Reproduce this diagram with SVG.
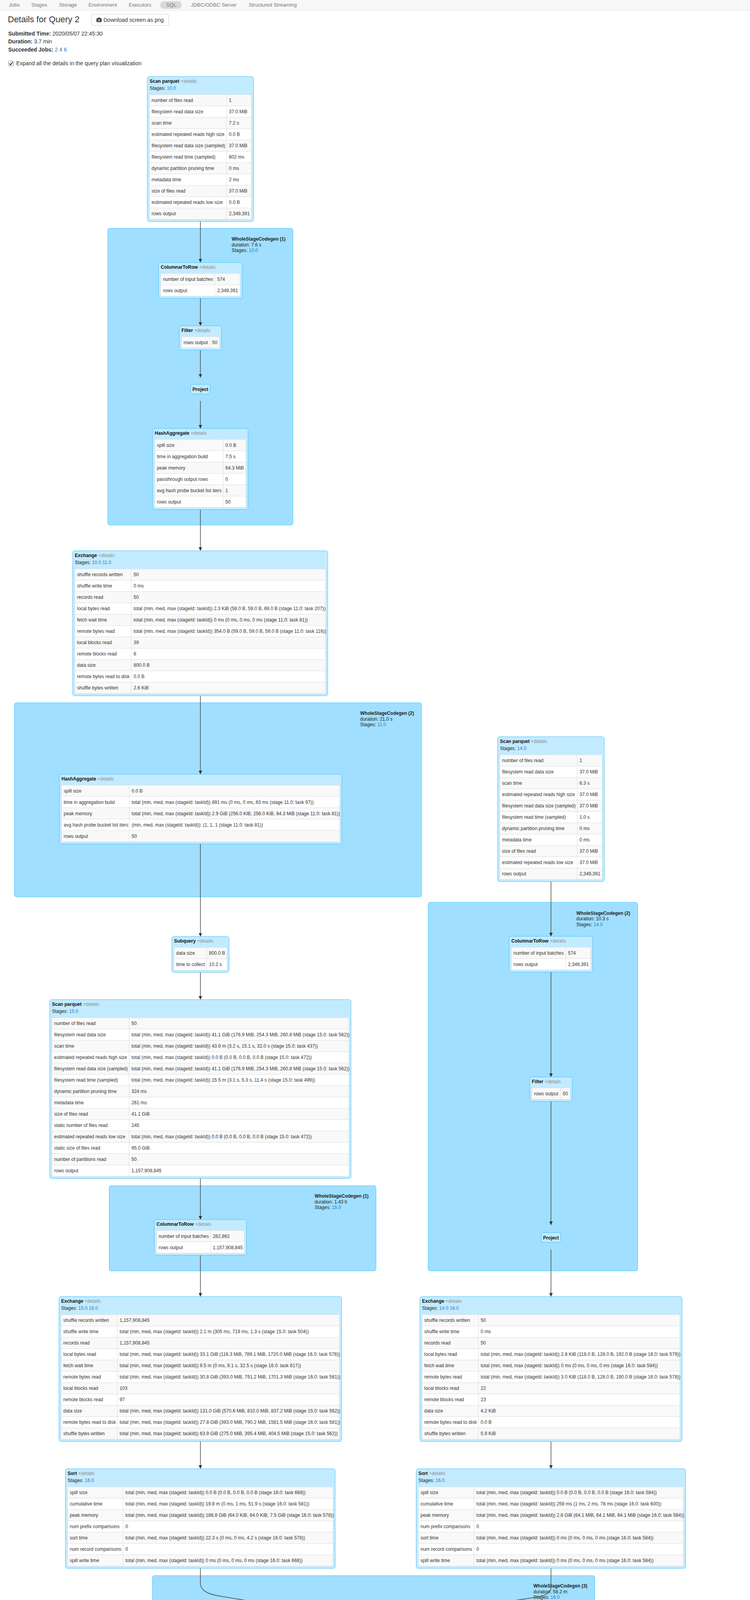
<svg xmlns="http://www.w3.org/2000/svg" width="1920" height="5778" viewBox="0 0 1920 5778">
<defs>
<style>
text{font-family:"Liberation Sans",Arial,Helvetica,sans-serif;}
.cl{fill:#A0DFFF;stroke:#3EC0FF;stroke-width:1}
.nd{fill:#C3EBFF;stroke:#3EC0FF;stroke-width:1}
.tb{fill:#fff}
.to{fill:none;stroke:#ddd;stroke-width:1}
.sp{fill:#f9f9f9}
.gl{fill:none;stroke:#ddd;stroke-width:1}
.tt{font-size:12px;font-weight:bold;fill:#111}
.dt{font-weight:normal;fill:#8c8c8c}
.tx{font-size:12px;fill:#222}
.c{font-size:12px;fill:#333}
.lk{fill:#2c7bc4}
.b{font-weight:bold}
.edge{fill:none;stroke:#444;stroke-width:1.5}
.pre{font-family:"Liberation Mono","DejaVu Sans Mono",monospace;font-size:11px;fill:#333;white-space:pre}
.nav{font-size:13px;fill:#777}
.hd{font-size:14px;fill:#333}
</style>
<marker id="ah" viewBox="0 0 10 10" refX="10" refY="5" markerUnits="userSpaceOnUse" markerWidth="9" markerHeight="9" orient="auto"><path d="M0,0L10,5L0,10z" fill="#333"/></marker>
</defs>
<rect width="1920" height="5778" fill="#fff"/>

<g id="navbar">
<rect x="0" y="0" width="1920" height="26.5" fill="#f8f8f8"/>
<line x1="0" y1="26.5" x2="1920" y2="26.5" stroke="#e3e3e3"/>
<rect x="410" y="3" width="55" height="19.5" rx="9" fill="#d9d9d9"/>
<text class="nav" x="23" y="17">Jobs</text>
<text class="nav" x="80.2" y="17">Stages</text>
<text class="nav" x="151.3" y="17">Storage</text>
<text class="nav" x="226.6" y="17">Environment</text>
<text class="nav" x="329.4" y="17">Executors</text>
<text class="nav" x="425.6" y="17">SQL</text>
<text class="nav" x="488.7" y="17">JDBC/ODBC Server</text>
<text class="nav" x="636.8" y="17">Structured Streaming</text>
</g>

<g id="header">
<text x="20" y="56.5" font-size="22" fill="#333">Details for Query 2</text>
<rect x="234.5" y="36.8" width="197.5" height="28.4" rx="4" fill="#fff" stroke="#ccc"/>
<rect x="247" y="47" width="13" height="9.5" rx="1.5" fill="#333"/>
<rect x="250.5" y="45" width="6" height="3" rx="1" fill="#333"/>
<circle cx="253.5" cy="51.7" r="2.9" fill="#fff"/>
<circle cx="253.5" cy="51.7" r="1.6" fill="#333"/>
<text class="hd" x="265" y="56">Download screen as png</text>
<text class="hd" x="21" y="91"><tspan class="b">Submitted Time:</tspan> 2020/05/07 22:45:30</text>
<text class="hd" x="21" y="111"><tspan class="b">Duration:</tspan> 3.7 min</text>
<text class="hd" x="21" y="131.5"><tspan class="b">Succeeded Jobs:</tspan> <tspan class="lk">2</tspan> <tspan class="lk">4</tspan> <tspan class="lk">6</tspan></text>
<rect x="21.5" y="156" width="13" height="13" rx="2" fill="#fff" stroke="#888"/>
<path d="M24,162.5L27.2,166.2L32.5,158.5" fill="none" stroke="#222" stroke-width="2"/>
<text class="hd" x="41.6" y="167">Expand all the details in the query plan visualization</text>
</g>

<g id="clusters">
<g id="c1"><rect class="cl" x="276" y="584.5" width="474" height="759.5" rx="5"/>
<text class="tx" x="593" y="616"><tspan class="b">WholeStageCodegen (1)</tspan></text>
<text class="tx" x="593" y="630.5">duration: 7.6 s</text>
<text class="tx" x="593" y="645">Stages: <tspan class="lk">10.0</tspan></text></g>
<g id="c2"><rect class="cl" x="37" y="1799" width="1042" height="497" rx="5"/>
<text class="tx" x="922" y="1830"><tspan class="b">WholeStageCodegen (2)</tspan></text>
<text class="tx" x="922" y="1844.5">duration: 21.0 s</text>
<text class="tx" x="922" y="1859">Stages: <tspan class="lk">11.0</tspan></text></g>
<g id="c3"><rect class="cl" x="1096" y="2310" width="536.5" height="943.5" rx="5"/>
<text class="tx" x="1475.5" y="2341.5"><tspan class="b">WholeStageCodegen (2)</tspan></text>
<text class="tx" x="1475.5" y="2356">duration: 10.3 s</text>
<text class="tx" x="1475.5" y="2370.5">Stages: <tspan class="lk">14.0</tspan></text></g>
<g id="c4"><rect class="cl" x="279.6" y="3035.3" width="683" height="218.3" rx="5"/>
<text class="tx" x="805.6" y="3066.3"><tspan class="b">WholeStageCodegen (1)</tspan></text>
<text class="tx" x="805.6" y="3080.8">duration: 1.43 h</text>
<text class="tx" x="805.6" y="3095.3">Stages: <tspan class="lk">15.0</tspan></text></g>
<g id="c5"><rect class="cl" x="390" y="4033.7" width="1132.5" height="189" rx="5"/>
<text class="tx" x="1365.5" y="4064.3"><tspan class="b">WholeStageCodegen (3)</tspan></text>
<text class="tx" x="1365.5" y="4078.5">duration: 58.2 m</text>
<text class="tx" x="1365.5" y="4092.5">Stages: <tspan class="lk">16.0</tspan></text></g>
</g>

<g id="connectors">
<path class="edge" marker-end="url(#ah)" d="M513,567V672"/>
<path class="edge" marker-end="url(#ah)" d="M513,763.6V834"/>
<path class="edge" marker-end="url(#ah)" d="M513,896.6V966.5"/>
<path class="edge" marker-end="url(#ah)" d="M513,1026.5V1097"/>
<path class="edge" marker-end="url(#ah)" d="M513,1304.6V1410"/>
<path class="edge" marker-end="url(#ah)" d="M513,1781V1982"/>
<path class="edge" marker-end="url(#ah)" d="M513,2160.6V2397.6"/>
<path class="edge" marker-end="url(#ah)" d="M513,2489.2V2559"/>
<path class="edge" marker-end="url(#ah)" d="M513,3017V3122"/>
<path class="edge" marker-end="url(#ah)" d="M513,3213.6V3319.2"/>
<path class="edge" marker-end="url(#ah)" d="M513,3690.2V3760"/>
<path class="edge" marker-end="url(#ah)" d="M513,4015V4052C513,4072 530,4080.5 566,4086.5L877,4138"/>
<path class="edge" marker-end="url(#ah)" d="M1410.5,2257V2397"/>
<path class="edge" marker-end="url(#ah)" d="M1410.5,2488.6V2757"/>
<path class="edge" marker-end="url(#ah)" d="M1410.5,2819.6V3136"/>
<path class="edge" marker-end="url(#ah)" d="M1410.5,3198.8V3319.2"/>
<path class="edge" marker-end="url(#ah)" d="M1410.5,3690.2V3760"/>
<path class="edge" marker-end="url(#ah)" d="M1410.5,4015V4062C1410.5,4080 1396,4085 1362,4090.5L1047,4138"/>
<path class="edge" marker-end="url(#ah)" d="M962,4182.6V4287.7"/>
</g>

<g id="n1">
<rect class="nd" x="377" y="196" width="272" height="371" rx="5"/>
<text class="tt" x="383" y="211.8">Scan parquet<tspan class="dt"> +details</tspan></text>
<text class="tx" x="383" y="229.8">Stages: <tspan class="lk">10.0</tspan></text>
<g transform="translate(382.5,242.4)">
<rect class="tb" width="261" height="319"/>
<path class="sp" d="M0,0h261v29H0zM0,58h261v29H0zM0,116h261v29H0zM0,174h261v29H0zM0,232h261v29H0zM0,290h261v29H0z"/>
<path class="gl" d="M0,29H261M0,58H261M0,87H261M0,116H261M0,145H261M0,174H261M0,203H261M0,232H261M0,261H261M0,290H261M197.5,0V319"/>
<rect class="to" width="261" height="319"/>
<text class="c" x="5.5" y="18.7">number of files read</text><text class="c" x="203.5" y="18.7">1</text>
<text class="c" x="5.5" y="47.7">filesystem read data size</text><text class="c" x="203.5" y="47.7">37.0 MiB</text>
<text class="c" x="5.5" y="76.7">scan time</text><text class="c" x="203.5" y="76.7">7.2 s</text>
<text class="c" x="5.5" y="105.7">estimated repeated reads high size</text><text class="c" x="203.5" y="105.7">0.0 B</text>
<text class="c" x="5.5" y="134.7">filesystem read data size (sampled)</text><text class="c" x="203.5" y="134.7">37.0 MiB</text>
<text class="c" x="5.5" y="163.7">filesystem read time (sampled)</text><text class="c" x="203.5" y="163.7">602 ms</text>
<text class="c" x="5.5" y="192.7">dynamic partition pruning time</text><text class="c" x="203.5" y="192.7">0 ms</text>
<text class="c" x="5.5" y="221.7">metadata time</text><text class="c" x="203.5" y="221.7">2 ms</text>
<text class="c" x="5.5" y="250.7">size of files read</text><text class="c" x="203.5" y="250.7">37.0 MiB</text>
<text class="c" x="5.5" y="279.7">estimated repeated reads low size</text><text class="c" x="203.5" y="279.7">0.0 B</text>
<text class="c" x="5.5" y="308.7">rows output</text><text class="c" x="203.5" y="308.7">2,349,391</text>
</g></g>

<g id="n3">
<rect class="nd" x="406" y="672" width="214" height="91.6" rx="5"/>
<text class="tt" x="411.5" y="687.8">ColumnarToRow<tspan class="dt"> +details</tspan></text>
<g transform="translate(411.5,700)">
<rect class="tb" width="203" height="58"/>
<path class="sp" d="M0,0h203v29H0z"/>
<path class="gl" d="M0,29H203M138.5,0V58"/>
<rect class="to" width="203" height="58"/>
<text class="c" x="5.5" y="18.7">number of input batches</text><text class="c" x="144.5" y="18.7">574</text>
<text class="c" x="5.5" y="47.7">rows output</text><text class="c" x="144.5" y="47.7">2,349,391</text>
</g></g>

<g id="n4">
<rect class="nd" x="459" y="834" width="108" height="62.6" rx="5"/>
<text class="tt" x="464.5" y="849.8">Filter<tspan class="dt"> +details</tspan></text>
<g transform="translate(464.5,862)">
<rect class="tb" width="97" height="29"/>
<path class="sp" d="M0,0h97v29H0z"/>
<path class="gl" d="M72.5,0V29"/>
<rect class="to" width="97" height="29"/>
<text class="c" x="5.5" y="18.7">rows output</text><text class="c" x="78.5" y="18.7">50</text>
</g></g>

<g id="n5">
<rect class="nd" x="488" y="984" width="50" height="24.6" rx="5"/>
<text class="tt" x="513" y="1001" text-anchor="middle">Project</text>
</g>

<g id="n6">
<rect class="nd" x="390.5" y="1097" width="244.5" height="207.6" rx="5"/>
<text class="tt" x="396" y="1112.8">HashAggregate<tspan class="dt"> +details</tspan></text>
<g transform="translate(396,1125)">
<rect class="tb" width="233.5" height="174"/>
<path class="sp" d="M0,0h233.5v29H0zM0,58h233.5v29H0zM0,116h233.5v29H0z"/>
<path class="gl" d="M0,29H233.5M0,58H233.5M0,87H233.5M0,116H233.5M0,145H233.5M175,0V174"/>
<rect class="to" width="233.5" height="174"/>
<text class="c" x="5.5" y="18.7">spill size</text><text class="c" x="181" y="18.7">0.0 B</text>
<text class="c" x="5.5" y="47.7">time in aggregation build</text><text class="c" x="181" y="47.7">7.5 s</text>
<text class="c" x="5.5" y="76.7">peak memory</text><text class="c" x="181" y="76.7">64.3 MiB</text>
<text class="c" x="5.5" y="105.7">passthrough output rows</text><text class="c" x="181" y="105.7">0</text>
<text class="c" x="5.5" y="134.7">avg hash probe bucket list iters</text><text class="c" x="181" y="134.7">1</text>
<text class="c" x="5.5" y="163.7">rows output</text><text class="c" x="181" y="163.7">50</text>
</g></g>

<g id="n7">
<rect class="nd" x="186" y="1410" width="653" height="371" rx="5"/>
<text class="tt" x="191.5" y="1425.8">Exchange<tspan class="dt"> +details</tspan></text>
<text class="tx" x="191.5" y="1443.8">Stages: <tspan class="lk">10.0</tspan> <tspan class="lk">11.0</tspan></text>
<g transform="translate(191.5,1456.4)">
<rect class="tb" width="642" height="319"/>
<path class="sp" d="M0,0h642v29H0zM0,58h642v29H0zM0,116h642v29H0zM0,174h642v29H0zM0,232h642v29H0zM0,290h642v29H0z"/>
<path class="gl" d="M0,29H642M0,58H642M0,87H642M0,116H642M0,145H642M0,174H642M0,203H642M0,232H642M0,261H642M0,290H642M144.5,0V319"/>
<rect class="to" width="642" height="319"/>
<text class="c" x="5.5" y="18.7">shuffle records written</text><text class="c" x="150.5" y="18.7">50</text>
<text class="c" x="5.5" y="47.7">shuffle write time</text><text class="c" x="150.5" y="47.7">0 ms</text>
<text class="c" x="5.5" y="76.7">records read</text><text class="c" x="150.5" y="76.7">50</text>
<text class="c" x="5.5" y="105.7">local bytes read</text><text class="c" x="150.5" y="105.7">total (min, med, max (stageId: taskId)) 2.3 KiB (58.0 B, 59.0 B, 69.0 B (stage 11.0: task 207))</text>
<text class="c" x="5.5" y="134.7">fetch wait time</text><text class="c" x="150.5" y="134.7">total (min, med, max (stageId: taskId)) 0 ms (0 ms, 0 ms, 0 ms (stage 11.0: task 81))</text>
<text class="c" x="5.5" y="163.7">remote bytes read</text><text class="c" x="150.5" y="163.7">total (min, med, max (stageId: taskId)) 354.0 B (59.0 B, 59.0 B, 59.0 B (stage 11.0: task 116))</text>
<text class="c" x="5.5" y="192.7">local blocks read</text><text class="c" x="150.5" y="192.7">39</text>
<text class="c" x="5.5" y="221.7">remote blocks read</text><text class="c" x="150.5" y="221.7">6</text>
<text class="c" x="5.5" y="250.7">data size</text><text class="c" x="150.5" y="250.7">800.0 B</text>
<text class="c" x="5.5" y="279.7">remote bytes read to disk</text><text class="c" x="150.5" y="279.7">0.0 B</text>
<text class="c" x="5.5" y="308.7">shuffle bytes written</text><text class="c" x="150.5" y="308.7">2.6 KiB</text>
</g></g>

<g id="n9">
<rect class="nd" x="152" y="1982" width="723" height="178.6" rx="5"/>
<text class="tt" x="157.5" y="1997.8">HashAggregate<tspan class="dt"> +details</tspan></text>
<g transform="translate(157.5,2010)">
<rect class="tb" width="712" height="145"/>
<path class="sp" d="M0,0h712v29H0zM0,58h712v29H0zM0,116h712v29H0z"/>
<path class="gl" d="M0,29H712M0,58H712M0,87H712M0,116H712M173.5,0V145"/>
<rect class="to" width="712" height="145"/>
<text class="c" x="5.5" y="18.7">spill size</text><text class="c" x="179.5" y="18.7">0.0 B</text>
<text class="c" x="5.5" y="47.7">time in aggregation build</text><text class="c" x="179.5" y="47.7">total (min, med, max (stageId: taskId)) 891 ms (0 ms, 0 ms, 63 ms (stage 11.0: task 97))</text>
<text class="c" x="5.5" y="76.7">peak memory</text><text class="c" x="179.5" y="76.7">total (min, med, max (stageId: taskId)) 2.9 GiB (256.0 KiB, 256.0 KiB, 64.3 MiB (stage 11.0: task 81))</text>
<text class="c" x="5.5" y="105.7">avg hash probe bucket list iters</text><text class="c" x="179.5" y="105.7">(min, med, max (stageId: taskId)): (1, 1, 1 (stage 11.0: task 81))</text>
<text class="c" x="5.5" y="134.7">rows output</text><text class="c" x="179.5" y="134.7">50</text>
</g></g>

<g id="n10">
<rect class="nd" x="1274" y="1886" width="273" height="371" rx="5"/>
<text class="tt" x="1280" y="1901.8">Scan parquet<tspan class="dt"> +details</tspan></text>
<text class="tx" x="1280" y="1919.8">Stages: <tspan class="lk">14.0</tspan></text>
<g transform="translate(1279.5,1932.4)">
<rect class="tb" width="262" height="319"/>
<path class="sp" d="M0,0h262v29H0zM0,58h262v29H0zM0,116h262v29H0zM0,174h262v29H0zM0,232h262v29H0zM0,290h262v29H0z"/>
<path class="gl" d="M0,29H262M0,58H262M0,87H262M0,116H262M0,145H262M0,174H262M0,203H262M0,232H262M0,261H262M0,290H262M198,0V319"/>
<rect class="to" width="262" height="319"/>
<text class="c" x="5.5" y="18.7">number of files read</text><text class="c" x="204" y="18.7">1</text>
<text class="c" x="5.5" y="47.7">filesystem read data size</text><text class="c" x="204" y="47.7">37.0 MiB</text>
<text class="c" x="5.5" y="76.7">scan time</text><text class="c" x="204" y="76.7">6.3 s</text>
<text class="c" x="5.5" y="105.7">estimated repeated reads high size</text><text class="c" x="204" y="105.7">37.0 MiB</text>
<text class="c" x="5.5" y="134.7">filesystem read data size (sampled)</text><text class="c" x="204" y="134.7">37.0 MiB</text>
<text class="c" x="5.5" y="163.7">filesystem read time (sampled)</text><text class="c" x="204" y="163.7">1.0 s</text>
<text class="c" x="5.5" y="192.7">dynamic partition pruning time</text><text class="c" x="204" y="192.7">0 ms</text>
<text class="c" x="5.5" y="221.7">metadata time</text><text class="c" x="204" y="221.7">0 ms</text>
<text class="c" x="5.5" y="250.7">size of files read</text><text class="c" x="204" y="250.7">37.0 MiB</text>
<text class="c" x="5.5" y="279.7">estimated repeated reads low size</text><text class="c" x="204" y="279.7">37.0 MiB</text>
<text class="c" x="5.5" y="308.7">rows output</text><text class="c" x="204" y="308.7">2,349,391</text>
</g></g>

<g id="n12">
<rect class="nd" x="1303.5" y="2397" width="214" height="91.6" rx="5"/>
<text class="tt" x="1309" y="2412.8">ColumnarToRow<tspan class="dt"> +details</tspan></text>
<g transform="translate(1309,2425)">
<rect class="tb" width="203" height="58"/>
<path class="sp" d="M0,0h203v29H0z"/>
<path class="gl" d="M0,29H203M139,0V58"/>
<rect class="to" width="203" height="58"/>
<text class="c" x="5.5" y="18.7">number of input batches</text><text class="c" x="145" y="18.7">574</text>
<text class="c" x="5.5" y="47.7">rows output</text><text class="c" x="145" y="47.7">2,349,391</text>
</g></g>

<g id="n13">
<rect class="nd" x="1356" y="2757" width="109" height="62.6" rx="5"/>
<text class="tt" x="1361.5" y="2772.8">Filter<tspan class="dt"> +details</tspan></text>
<g transform="translate(1361.5,2785)">
<rect class="tb" width="98" height="29"/>
<path class="sp" d="M0,0h98v29H0z"/>
<path class="gl" d="M73,0V29"/>
<rect class="to" width="98" height="29"/>
<text class="c" x="5.5" y="18.7">rows output</text><text class="c" x="79" y="18.7">50</text>
</g></g>

<g id="n14">
<rect class="nd" x="1385.5" y="3155.5" width="50" height="24.6" rx="5"/>
<text class="tt" x="1410.5" y="3172.5" text-anchor="middle">Project</text>
</g>

<g id="n15">
<rect class="nd" x="440" y="2397.6" width="146.4" height="91.6" rx="5"/>
<text class="tt" x="445.5" y="2413.4">Subquery<tspan class="dt"> +details</tspan></text>
<g transform="translate(445.5,2425.6)">
<rect class="tb" width="135.5" height="58"/>
<path class="sp" d="M0,0h135.5v29H0z"/>
<path class="gl" d="M0,29H135.5M83.5,0V58"/>
<rect class="to" width="135.5" height="58"/>
<text class="c" x="5.5" y="18.7">data size</text><text class="c" x="89.5" y="18.7">800.0 B</text>
<text class="c" x="5.5" y="47.7">time to collect</text><text class="c" x="89.5" y="47.7">10.2 s</text>
</g></g>

<g id="n16">
<rect class="nd" x="127.4" y="2559" width="771.2" height="458" rx="5"/>
<text class="tt" x="133" y="2574.8">Scan parquet<tspan class="dt"> +details</tspan></text>
<text class="tx" x="133" y="2592.8">Stages: <tspan class="lk">15.0</tspan></text>
<g transform="translate(133,2605.4)">
<rect class="tb" width="760" height="406"/>
<path class="sp" d="M0,0h760v29H0zM0,58h760v29H0zM0,116h760v29H0zM0,174h760v29H0zM0,232h760v29H0zM0,290h760v29H0zM0,348h760v29H0z"/>
<path class="gl" d="M0,29H760M0,58H760M0,87H760M0,116H760M0,145H760M0,174H760M0,203H760M0,232H760M0,261H760M0,290H760M0,319H760M0,348H760M0,377H760M197.5,0V406"/>
<rect class="to" width="760" height="406"/>
<text class="c" x="5.5" y="18.7">number of files read</text><text class="c" x="203.5" y="18.7">50</text>
<text class="c" x="5.5" y="47.7">filesystem read data size</text><text class="c" x="203.5" y="47.7">total (min, med, max (stageId: taskId)) 41.1 GiB (176.9 MiB, 254.3 MiB, 260.8 MiB (stage 15.0: task 562))</text>
<text class="c" x="5.5" y="76.7">scan time</text><text class="c" x="203.5" y="76.7">total (min, med, max (stageId: taskId)) 43.9 m (3.2 s, 15.1 s, 32.0 s (stage 15.0: task 437))</text>
<text class="c" x="5.5" y="105.7">estimated repeated reads high size</text><text class="c" x="203.5" y="105.7">total (min, med, max (stageId: taskId)) 0.0 B (0.0 B, 0.0 B, 0.0 B (stage 15.0: task 472))</text>
<text class="c" x="5.5" y="134.7">filesystem read data size (sampled)</text><text class="c" x="203.5" y="134.7">total (min, med, max (stageId: taskId)) 41.1 GiB (176.9 MiB, 254.3 MiB, 260.8 MiB (stage 15.0: task 562))</text>
<text class="c" x="5.5" y="163.7">filesystem read time (sampled)</text><text class="c" x="203.5" y="163.7">total (min, med, max (stageId: taskId)) 15.5 m (3.1 s, 5.3 s, 11.4 s (stage 15.0: task 499))</text>
<text class="c" x="5.5" y="192.7">dynamic partition pruning time</text><text class="c" x="203.5" y="192.7">324 ms</text>
<text class="c" x="5.5" y="221.7">metadata time</text><text class="c" x="203.5" y="221.7">261 ms</text>
<text class="c" x="5.5" y="250.7">size of files read</text><text class="c" x="203.5" y="250.7">41.1 GiB</text>
<text class="c" x="5.5" y="279.7">static number of files read</text><text class="c" x="203.5" y="279.7">245</text>
<text class="c" x="5.5" y="308.7">estimated repeated reads low size</text><text class="c" x="203.5" y="308.7">total (min, med, max (stageId: taskId)) 0.0 B (0.0 B, 0.0 B, 0.0 B (stage 15.0: task 472))</text>
<text class="c" x="5.5" y="337.7">static size of files read</text><text class="c" x="203.5" y="337.7">95.0 GiB</text>
<text class="c" x="5.5" y="366.7">number of partitions read</text><text class="c" x="203.5" y="366.7">50</text>
<text class="c" x="5.5" y="395.7">rows output</text><text class="c" x="203.5" y="395.7">1,157,908,845</text>
</g></g>

<g id="n18">
<rect class="nd" x="395" y="3122" width="236" height="91.6" rx="5"/>
<text class="tt" x="400.5" y="3137.8">ColumnarToRow<tspan class="dt"> +details</tspan></text>
<g transform="translate(400.5,3150)">
<rect class="tb" width="225" height="58"/>
<path class="sp" d="M0,0h225v29H0z"/>
<path class="gl" d="M0,29H225M138.2,0V58"/>
<rect class="to" width="225" height="58"/>
<text class="c" x="5.5" y="18.7">number of input batches</text><text class="c" x="144.2" y="18.7">282,862</text>
<text class="c" x="5.5" y="47.7">rows output</text><text class="c" x="144.2" y="47.7">1,157,908,845</text>
</g></g>

<g id="n19">
<rect class="nd" x="151" y="3319.2" width="723.5" height="371" rx="5"/>
<text class="tt" x="156.5" y="3335">Exchange<tspan class="dt"> +details</tspan></text>
<text class="tx" x="156.5" y="3353">Stages: <tspan class="lk">15.0</tspan> <tspan class="lk">16.0</tspan></text>
<g transform="translate(156.5,3365.6)">
<rect class="tb" width="712.5" height="319"/>
<path class="sp" d="M0,0h712.5v29H0zM0,58h712.5v29H0zM0,116h712.5v29H0zM0,174h712.5v29H0zM0,232h712.5v29H0zM0,290h712.5v29H0z"/>
<path class="gl" d="M0,29H712.5M0,58H712.5M0,87H712.5M0,116H712.5M0,145H712.5M0,174H712.5M0,203H712.5M0,232H712.5M0,261H712.5M0,290H712.5M143.7,0V319"/>
<rect class="to" width="712.5" height="319"/>
<text class="c" x="5.5" y="18.7">shuffle records written</text><text class="c" x="149.7" y="18.7">1,157,908,845</text>
<text class="c" x="5.5" y="47.7">shuffle write time</text><text class="c" x="149.7" y="47.7">total (min, med, max (stageId: taskId)) 2.1 m (305 ms, 719 ms, 1.3 s (stage 15.0: task 504))</text>
<text class="c" x="5.5" y="76.7">records read</text><text class="c" x="149.7" y="76.7">1,157,908,845</text>
<text class="c" x="5.5" y="105.7">local bytes read</text><text class="c" x="149.7" y="105.7">total (min, med, max (stageId: taskId)) 33.1 GiB (116.3 MiB, 789.1 MiB, 1720.0 MiB (stage 16.0: task 578))</text>
<text class="c" x="5.5" y="134.7">fetch wait time</text><text class="c" x="149.7" y="134.7">total (min, med, max (stageId: taskId)) 9.5 m (0 ms, 9.1 s, 32.5 s (stage 16.0: task 617))</text>
<text class="c" x="5.5" y="163.7">remote bytes read</text><text class="c" x="149.7" y="163.7">total (min, med, max (stageId: taskId)) 30.8 GiB (393.0 MiB, 791.2 MiB, 1701.3 MiB (stage 16.0: task 581))</text>
<text class="c" x="5.5" y="192.7">local blocks read</text><text class="c" x="149.7" y="192.7">103</text>
<text class="c" x="5.5" y="221.7">remote blocks read</text><text class="c" x="149.7" y="221.7">97</text>
<text class="c" x="5.5" y="250.7">data size</text><text class="c" x="149.7" y="250.7">total (min, med, max (stageId: taskId)) 131.0 GiB (570.6 MiB, 810.0 MiB, 837.2 MiB (stage 15.0: task 562))</text>
<text class="c" x="5.5" y="279.7">remote bytes read to disk</text><text class="c" x="149.7" y="279.7">total (min, med, max (stageId: taskId)) 27.8 GiB (393.0 MiB, 790.2 MiB, 1581.5 MiB (stage 16.0: task 581))</text>
<text class="c" x="5.5" y="308.7">shuffle bytes written</text><text class="c" x="149.7" y="308.7">total (min, med, max (stageId: taskId)) 63.9 GiB (275.0 MiB, 395.4 MiB, 404.5 MiB (stage 15.0: task 562))</text>
</g></g>

<g id="n20">
<rect class="nd" x="1075" y="3319.2" width="671" height="371" rx="5"/>
<text class="tt" x="1080.5" y="3335">Exchange<tspan class="dt"> +details</tspan></text>
<text class="tx" x="1080.5" y="3353">Stages: <tspan class="lk">14.0</tspan> <tspan class="lk">16.0</tspan></text>
<g transform="translate(1080.5,3365.6)">
<rect class="tb" width="660" height="319"/>
<path class="sp" d="M0,0h660v29H0zM0,58h660v29H0zM0,116h660v29H0zM0,174h660v29H0zM0,232h660v29H0zM0,290h660v29H0z"/>
<path class="gl" d="M0,29H660M0,58H660M0,87H660M0,116H660M0,145H660M0,174H660M0,203H660M0,232H660M0,261H660M0,290H660M144,0V319"/>
<rect class="to" width="660" height="319"/>
<text class="c" x="5.5" y="18.7">shuffle records written</text><text class="c" x="150" y="18.7">50</text>
<text class="c" x="5.5" y="47.7">shuffle write time</text><text class="c" x="150" y="47.7">0 ms</text>
<text class="c" x="5.5" y="76.7">records read</text><text class="c" x="150" y="76.7">50</text>
<text class="c" x="5.5" y="105.7">local bytes read</text><text class="c" x="150" y="105.7">total (min, med, max (stageId: taskId)) 2.8 KiB (118.0 B, 128.0 B, 192.0 B (stage 16.0: task 579))</text>
<text class="c" x="5.5" y="134.7">fetch wait time</text><text class="c" x="150" y="134.7">total (min, med, max (stageId: taskId)) 0 ms (0 ms, 0 ms, 0 ms (stage 16.0: task 584))</text>
<text class="c" x="5.5" y="163.7">remote bytes read</text><text class="c" x="150" y="163.7">total (min, med, max (stageId: taskId)) 3.0 KiB (118.0 B, 128.0 B, 190.0 B (stage 16.0: task 578))</text>
<text class="c" x="5.5" y="192.7">local blocks read</text><text class="c" x="150" y="192.7">22</text>
<text class="c" x="5.5" y="221.7">remote blocks read</text><text class="c" x="150" y="221.7">23</text>
<text class="c" x="5.5" y="250.7">data size</text><text class="c" x="150" y="250.7">4.2 KiB</text>
<text class="c" x="5.5" y="279.7">remote bytes read to disk</text><text class="c" x="150" y="279.7">0.0 B</text>
<text class="c" x="5.5" y="308.7">shuffle bytes written</text><text class="c" x="150" y="308.7">5.9 KiB</text>
</g></g>

<g id="n21">
<rect class="nd" x="167.5" y="3760" width="690.5" height="255" rx="5"/>
<text class="tt" x="173" y="3775.8">Sort<tspan class="dt"> +details</tspan></text>
<text class="tx" x="173" y="3793.8">Stages: <tspan class="lk">16.0</tspan></text>
<g transform="translate(173,3806.4)">
<rect class="tb" width="679.5" height="203"/>
<path class="sp" d="M0,0h679.5v29H0zM0,58h679.5v29H0zM0,116h679.5v29H0zM0,174h679.5v29H0z"/>
<path class="gl" d="M0,29H679.5M0,58H679.5M0,87H679.5M0,116H679.5M0,145H679.5M0,174H679.5M142,0V203"/>
<rect class="to" width="679.5" height="203"/>
<text class="c" x="5.5" y="18.7">spill size</text><text class="c" x="148" y="18.7">total (min, med, max (stageId: taskId)) 0.0 B (0.0 B, 0.0 B, 0.0 B (stage 16.0: task 668))</text>
<text class="c" x="5.5" y="47.7">cumulative time</text><text class="c" x="148" y="47.7">total (min, med, max (stageId: taskId)) 19.8 m (0 ms, 1 ms, 51.9 s (stage 16.0: task 581))</text>
<text class="c" x="5.5" y="76.7">peak memory</text><text class="c" x="148" y="76.7">total (min, med, max (stageId: taskId)) 186.8 GiB (64.0 KiB, 64.0 KiB, 7.5 GiB (stage 16.0: task 578))</text>
<text class="c" x="5.5" y="105.7">num prefix comparisons</text><text class="c" x="148" y="105.7">0</text>
<text class="c" x="5.5" y="134.7">sort time</text><text class="c" x="148" y="134.7">total (min, med, max (stageId: taskId)) 22.3 s (0 ms, 0 ms, 4.2 s (stage 16.0: task 578))</text>
<text class="c" x="5.5" y="163.7">num record comparisons</text><text class="c" x="148" y="163.7">0</text>
<text class="c" x="5.5" y="192.7">spill write time</text><text class="c" x="148" y="192.7">total (min, med, max (stageId: taskId)) 0 ms (0 ms, 0 ms, 0 ms (stage 16.0: task 668))</text>
</g></g>

<g id="n22">
<rect class="nd" x="1065.5" y="3760" width="689.5" height="255" rx="5"/>
<text class="tt" x="1071" y="3775.8">Sort<tspan class="dt"> +details</tspan></text>
<text class="tx" x="1071" y="3793.8">Stages: <tspan class="lk">16.0</tspan></text>
<g transform="translate(1071,3806.4)">
<rect class="tb" width="678.5" height="203"/>
<path class="sp" d="M0,0h678.5v29H0zM0,58h678.5v29H0zM0,116h678.5v29H0zM0,174h678.5v29H0z"/>
<path class="gl" d="M0,29H678.5M0,58H678.5M0,87H678.5M0,116H678.5M0,145H678.5M0,174H678.5M142.6,0V203"/>
<rect class="to" width="678.5" height="203"/>
<text class="c" x="5.5" y="18.7">spill size</text><text class="c" x="148.6" y="18.7">total (min, med, max (stageId: taskId)) 0.0 B (0.0 B, 0.0 B, 0.0 B (stage 16.0: task 584))</text>
<text class="c" x="5.5" y="47.7">cumulative time</text><text class="c" x="148.6" y="47.7">total (min, med, max (stageId: taskId)) 259 ms (1 ms, 2 ms, 78 ms (stage 16.0: task 600))</text>
<text class="c" x="5.5" y="76.7">peak memory</text><text class="c" x="148.6" y="76.7">total (min, med, max (stageId: taskId)) 2.8 GiB (64.1 MiB, 64.1 MiB, 64.1 MiB (stage 16.0: task 584))</text>
<text class="c" x="5.5" y="105.7">num prefix comparisons</text><text class="c" x="148.6" y="105.7">0</text>
<text class="c" x="5.5" y="134.7">sort time</text><text class="c" x="148.6" y="134.7">total (min, med, max (stageId: taskId)) 0 ms (0 ms, 0 ms, 0 ms (stage 16.0: task 584))</text>
<text class="c" x="5.5" y="163.7">num record comparisons</text><text class="c" x="148.6" y="163.7">0</text>
<text class="c" x="5.5" y="192.7">spill write time</text><text class="c" x="148.6" y="192.7">total (min, med, max (stageId: taskId)) 0 ms (0 ms, 0 ms, 0 ms (stage 16.0: task 584))</text>
</g></g>

<g id="n24">
<rect class="nd" x="877" y="4120" width="170" height="62.6" rx="5"/>
<text class="tt" x="882.5" y="4135.8">SortMergeJoin<tspan class="dt"> +details</tspan></text>
<g transform="translate(882.5,4148)">
<rect class="tb" width="159" height="29"/>
<path class="sp" d="M0,0h159v29H0z"/>
<path class="gl" d="M72.2,0V29"/>
<rect class="to" width="159" height="29"/>
<text class="c" x="5.5" y="18.7">rows output</text><text class="c" x="78.2" y="18.7">1,157,908,845</text>
</g></g>

<g id="n25">
<rect class="nd" x="868" y="4287.7" width="188" height="24.6" rx="5"/>
<text class="tx" x="872.5" y="4303.5"><tspan class="b">DeserializeToObject</tspan>Stages: <tspan class="lk">16.0</tspan></text>
</g>

<g id="details">
<polygon points="21,4339.5 28.5,4339.5 24.75,4345" fill="#222"/>
<text x="30.6" y="4347.4" font-size="14" class="lk">Details</text>
<rect x="20.2" y="4353.3" width="1879.8" height="1398.7" rx="4" fill="#f5f5f5" stroke="#ccc"/>
<text class="pre" x="28" y="4371.9">== Parsed Logical Plan ==</text>
<text class="pre" x="28" y="4389.9">'DeserializeToObject unresolveddeserializer(createexternalrow(staticinvoke(class org.apache.spark.sql.catalyst.util.DateTimeUtils$, ObjectType(class java.sql.Timestamp), toJavaTimestamp, getcolumnbyordinal(0, StructField(transacted_at,TimestampType,true),</text>
<text class="pre" x="28" y="4407.9">StructField(trx_id,StringType,true), StructField(retailer_id,IntegerType,true), StructField(description,StringType,true), StructField(amount,DecimalType(38,2),true), StructField(p_city_id,IntegerType,true), StructField(city_id,IntegerType,true), StructField(city,StringType,true),</text>
<text class="pre" x="28" y="4425.9">StructField(state,StringType,true), StructField(state_abv,StringType,true), StructField(country,StringType,true)), true, false), getcolumnbyordinal(1, StructField(transacted_at,TimestampType,true), StructField(trx_id,StringType,true), StructField(retailer_id,IntegerType,true),</text>
<text class="pre" x="28" y="4443.9">StructField(description,StringType,true), StructField(amount,DecimalType(38,2),true), StructField(p_city_id,IntegerType,true), StructField(city_id,IntegerType,true), StructField(city,StringType,true), StructField(state,StringType,true), StructField(state_abv,StringType,true),</text>
<text class="pre" x="28" y="4461.9">StructField(country,StringType,true)).toString, getcolumnbyordinal(2, StructField(transacted_at,TimestampType,true), StructField(trx_id,StringType,true), StructField(retailer_id,IntegerType,true), StructField(description,StringType,true), StructField(amount,DecimalType(38,2),true),</text>
<text class="pre" x="28" y="4479.8">StructField(p_city_id,IntegerType,true), StructField(city_id,IntegerType,true), StructField(city,StringType,true), StructField(state,StringType,true), StructField(state_abv,StringType,true), StructField(country,StringType,true)), getcolumnbyordinal(3,</text>
<text class="pre" x="28" y="4497.8">StructField(transacted_at,TimestampType,true), StructField(trx_id,StringType,true), StructField(retailer_id,IntegerType,true), StructField(description,StringType,true), StructField(amount,DecimalType(38,2),true), StructField(p_city_id,IntegerType,true),</text>
<text class="pre" x="28" y="4515.8">StructField(city_id,IntegerType,true), StructField(city,StringType,true), StructField(state,StringType,true), StructField(state_abv,StringType,true), StructField(country,StringType,true)).toString, getcolumnbyordinal(4, StructField(transacted_at,TimestampType,true),</text>
<text class="pre" x="28" y="4533.8">StructField(trx_id,StringType,true), StructField(retailer_id,IntegerType,true), StructField(description,StringType,true), StructField(amount,DecimalType(38,2),true), StructField(p_city_id,IntegerType,true), StructField(city_id,IntegerType,true), StructField(city,StringType,true),</text>
<text class="pre" x="28" y="4551.8">StructField(state,StringType,true), StructField(state_abv,StringType,true), StructField(country,StringType,true)).toJavaBigDecimal, getcolumnbyordinal(5, StructField(transacted_at,TimestampType,true), StructField(trx_id,StringType,true), StructField(retailer_id,IntegerType,true),</text>
<text class="pre" x="28" y="4569.8">StructField(description,StringType,true), StructField(amount,DecimalType(38,2),true), StructField(p_city_id,IntegerType,true), StructField(city_id,IntegerType,true), StructField(city,StringType,true), StructField(state,StringType,true), StructField(state_abv,StringType,true),</text>
<text class="pre" x="28" y="4587.8">StructField(country,StringType,true)), getcolumnbyordinal(6, StructField(transacted_at,TimestampType,true), StructField(trx_id,StringType,true), StructField(retailer_id,IntegerType,true), StructField(description,StringType,true), StructField(amount,DecimalType(38,2),true),</text>
<text class="pre" x="28" y="4605.8">StructField(p_city_id,IntegerType,true), StructField(city_id,IntegerType,true), StructField(city,StringType,true), StructField(state,StringType,true), StructField(state_abv,StringType,true), StructField(country,StringType,true)), getcolumnbyordinal(7,</text>
<text class="pre" x="28" y="4623.8">StructField(transacted_at,TimestampType,true), StructField(trx_id,StringType,true), StructField(retailer_id,IntegerType,true), StructField(description,StringType,true), StructField(amount,DecimalType(38,2),true), StructField(p_city_id,IntegerType,true),</text>
<text class="pre" x="28" y="4641.8">StructField(city_id,IntegerType,true), StructField(city,StringType,true), StructField(state,StringType,true), StructField(state_abv,StringType,true), StructField(country,StringType,true)).toString, getcolumnbyordinal(8, StructField(transacted_at,TimestampType,true),</text>
<text class="pre" x="28" y="4659.7">StructField(trx_id,StringType,true), StructField(retailer_id,IntegerType,true), StructField(description,StringType,true), StructField(amount,DecimalType(38,2),true), StructField(p_city_id,IntegerType,true), StructField(city_id,IntegerType,true), StructField(city,StringType,true),</text>
<text class="pre" x="28" y="4677.7">StructField(state,StringType,true), StructField(state_abv,StringType,true), StructField(country,StringType,true)).toString, getcolumnbyordinal(9, StructField(transacted_at,TimestampType,true), StructField(trx_id,StringType,true), StructField(retailer_id,IntegerType,true),</text>
<text class="pre" x="28" y="4695.7">StructField(description,StringType,true), StructField(amount,DecimalType(38,2),true), StructField(p_city_id,IntegerType,true), StructField(city_id,IntegerType,true), StructField(city,StringType,true), StructField(state,StringType,true), StructField(state_abv,StringType,true),</text>
<text class="pre" x="28" y="4713.7">StructField(country,StringType,true)).toString, getcolumnbyordinal(10, StructField(transacted_at,TimestampType,true), StructField(trx_id,StringType,true), StructField(retailer_id,IntegerType,true), StructField(description,StringType,true),</text>
<text class="pre" x="28" y="4731.7">StructField(amount,DecimalType(38,2),true), StructField(p_city_id,IntegerType,true), StructField(city_id,IntegerType,true), StructField(city,StringType,true), StructField(state,StringType,true), StructField(state_abv,StringType,true), StructField(country,StringType,true)).toString,</text>
<text class="pre" x="28" y="4749.7">StructField(transacted_at,TimestampType,true), StructField(trx_id,StringType,true), StructField(retailer_id,IntegerType,true), StructField(description,StringType,true), StructField(amount,DecimalType(38,2),true), StructField(p_city_id,IntegerType,true),</text>
<text class="pre" x="28" y="4767.7">StructField(city_id,IntegerType,true), StructField(city,StringType,true), StructField(state,StringType,true), StructField(state_abv,StringType,true), StructField(country,StringType,true))), obj#343: org.apache.spark.sql.Row</text>
<text class="pre" x="28" y="4785.7">+- Join Inner, (city_id#157 = p_city_id#303)</text>
<text class="pre" x="28" y="4803.7">   :- Relation[transacted_at#298,trx_id#299,retailer_id#300,description#301,amount#302,p_city_id#303] parquet</text>
<text class="pre" x="28" y="4821.7">   +- Filter (country#161 = USA)</text>
<text class="pre" x="28" y="4839.6">      +- Relation[city_id#157,city#158,state#159,state_abv#160,country#161] parquet</text>
<text class="pre" x="28" y="4875.6">== Analyzed Logical Plan ==</text>
<text class="pre" x="28" y="4893.6">obj: org.apache.spark.sql.Row</text>
<text class="pre" x="28" y="4911.6">DeserializeToObject createexternalrow(staticinvoke(class org.apache.spark.sql.catalyst.util.DateTimeUtils$, ObjectType(class java.sql.Timestamp), toJavaTimestamp, transacted_at#298, true, false), trx_id#299.toString, retailer_id#300, description#301.toString,</text>
<text class="pre" x="28" y="4929.6">amount#302.toJavaBigDecimal, p_city_id#303, city_id#157, city#158.toString, state#159.toString, state_abv#160.toString, country#161.toString, StructField(transacted_at,TimestampType,true), StructField(trx_id,StringType,true), StructField(retailer_id,IntegerType,true),</text>
<text class="pre" x="28" y="4947.6">StructField(description,StringType,true), StructField(amount,DecimalType(38,2),true), StructField(p_city_id,IntegerType,true), StructField(city_id,IntegerType,true), StructField(city,StringType,true), StructField(state,StringType,true), StructField(state_abv,StringType,true),</text>
<text class="pre" x="28" y="4965.6">StructField(country,StringType,true)), obj#343: org.apache.spark.sql.Row</text>
<text class="pre" x="28" y="4983.6">+- Join Inner, (city_id#157 = p_city_id#303)</text>
<text class="pre" x="28" y="5001.6">   :- Relation[transacted_at#298,trx_id#299,retailer_id#300,description#301,amount#302,p_city_id#303] parquet</text>
<text class="pre" x="28" y="5019.5">   +- Filter (country#161 = USA)</text>
<text class="pre" x="28" y="5037.5">      +- Relation[city_id#157,city#158,state#159,state_abv#160,country#161] parquet</text>
<text class="pre" x="28" y="5073.5">== Optimized Logical Plan ==</text>
<text class="pre" x="28" y="5091.5">DeserializeToObject createexternalrow(staticinvoke(class org.apache.spark.sql.catalyst.util.DateTimeUtils$, ObjectType(class java.sql.Timestamp), toJavaTimestamp, transacted_at#298, true, false), trx_id#299.toString, retailer_id#300, description#301.toString,</text>
<text class="pre" x="28" y="5109.5">amount#302.toJavaBigDecimal, p_city_id#303, city_id#157, city#158.toString, state#159.toString, state_abv#160.toString, country#161.toString, StructField(transacted_at,TimestampType,true), StructField(trx_id,StringType,true), StructField(retailer_id,IntegerType,true),</text>
<text class="pre" x="28" y="5127.5">StructField(description,StringType,true), StructField(amount,DecimalType(38,2),true), StructField(p_city_id,IntegerType,true), StructField(city_id,IntegerType,true), StructField(city,StringType,true), StructField(state,StringType,true), StructField(state_abv,StringType,true),</text>
<text class="pre" x="28" y="5145.5">StructField(country,StringType,true)), obj#343: org.apache.spark.sql.Row</text>
<text class="pre" x="28" y="5163.5">+- Join Inner, (city_id#157 = p_city_id#303), rightHint=(dynamicPruningFilterId=Some(344))</text>
<text class="pre" x="28" y="5181.5">   :- Filter (isnotnull(p_city_id#303) AND dynamicpruning#345 344)</text>
<text class="pre" x="28" y="5199.4">   :  +- Relation[transacted_at#298,trx_id#299,retailer_id#300,description#301,amount#302,p_city_id#303] parquet</text>
<text class="pre" x="28" y="5217.4">   +- Filter ((isnotnull(country#161) AND (country#161 = USA)) AND isnotnull(city_id#157))</text>
<text class="pre" x="28" y="5235.4">      +- Relation[city_id#157,city#158,state#159,state_abv#160,country#161] parquet</text>
<text class="pre" x="28" y="5271.4">== Physical Plan ==</text>
<text class="pre" x="28" y="5289.4">DeserializeToObject createexternalrow(staticinvoke(class org.apache.spark.sql.catalyst.util.DateTimeUtils$, ObjectType(class java.sql.Timestamp), toJavaTimestamp, transacted_at#298, true, false), trx_id#299.toString, retailer_id#300, description#301.toString,</text>
<text class="pre" x="28" y="5307.4">amount#302.toJavaBigDecimal, p_city_id#303, city_id#157, city#158.toString, state#159.toString, state_abv#160.toString, country#161.toString, StructField(transacted_at,TimestampType,true), StructField(trx_id,StringType,true), StructField(retailer_id,IntegerType,true),</text>
<text class="pre" x="28" y="5325.4">StructField(description,StringType,true), StructField(amount,DecimalType(38,2),true), StructField(p_city_id,IntegerType,true), StructField(city_id,IntegerType,true), StructField(city,StringType,true), StructField(state,StringType,true), StructField(state_abv,StringType,true),</text>
<text class="pre" x="28" y="5343.4">StructField(country,StringType,true)), obj#343: org.apache.spark.sql.Row</text>
<text class="pre" x="28" y="5361.4">+- *(3) SortMergeJoin [p_city_id#303], [city_id#157], Inner</text>
<text class="pre" x="28" y="5379.3">   :- Sort [p_city_id#303 ASC NULLS FIRST], false, 0</text>
<text class="pre" x="28" y="5397.3">   :  +- Exchange hashpartitioning(p_city_id#303, 400), true, [id=#571]</text>
<text class="pre" x="28" y="5415.3">   :     +- *(1) ColumnarToRow</text>
<text class="pre" x="28" y="5433.3">   :        +- FileScan parquet [transacted_at#298,trx_id#299,retailer_id#300,description#301,amount#302,p_city_id#303] Batched: true, DataFilters: [], Format: Parquet, Location: PreparedDeltaFileIndex[dbfs:/mnt/training/global-sales/transactions/2011-to-2018-100gb-par_city.d...,</text>
<text class="pre" x="28" y="5451.3">PartitionFilters: [isnotnull(p_city_id#303), dynamicpruningexpression(p_city_id#303 IN subquery#511)], PushedFilters: [], ReadSchema: struct&lt;transacted_at:timestamp,trx_id:string,retailer_id:int,description:string,amount:decimal(38...</text>
<text class="pre" x="28" y="5469.3">   :              +- Subquery subquery#511, [id=#566]</text>
<text class="pre" x="28" y="5487.3">   :                 +- *(2) HashAggregate(keys=[city_id#157#508], functions=[], output=[city_id#157#508])</text>
<text class="pre" x="28" y="5505.3">   :                    +- Exchange hashpartitioning(city_id#157#508, 400), true, [id=#551]</text>
<text class="pre" x="28" y="5523.3">   :                       +- *(1) HashAggregate(keys=[city_id#157 AS city_id#157#508], functions=[], output=[city_id#157#508])</text>
<text class="pre" x="28" y="5541.3">   :                          +- *(1) Project [city_id#157, city#158, state#159, state_abv#160, country#161]</text>
<text class="pre" x="28" y="5559.2">   :                             +- *(1) Filter ((isnotnull(country#161) AND (country#161 = USA)) AND isnotnull(city_id#157))</text>
<text class="pre" x="28" y="5577.2">   :                                +- *(1) ColumnarToRow</text>
<text class="pre" x="28" y="5595.2">   :                                   +- FileScan parquet [city_id#157,city#158,state#159,state_abv#160,country#161] Batched: true, DataFilters: [isnotnull(country#161), (country#161 = USA), isnotnull(city_id#157)], Format: Parquet, Location:</text>
<text class="pre" x="28" y="5613.2">PreparedDeltaFileIndex[dbfs:/mnt/training/global-sales/cities/all.delta], PartitionFilters: [], PushedFilters: [IsNotNull(country), EqualTo(country,USA), IsNotNull(city_id)], ReadSchema: struct&lt;city_id:int,city:string,state:string,state_abv:string,country:string&gt;</text>
<text class="pre" x="28" y="5631.2">   +- Sort [city_id#157 ASC NULLS FIRST], false, 0</text>
<text class="pre" x="28" y="5649.2">      +- Exchange hashpartitioning(city_id#157, 400), true, [id=#492]</text>
<text class="pre" x="28" y="5667.2">         +- *(2) Project [city_id#157, city#158, state#159, state_abv#160, country#161]</text>
<text class="pre" x="28" y="5685.2">            +- *(2) Filter ((isnotnull(country#161) AND (country#161 = USA)) AND isnotnull(city_id#157))</text>
<text class="pre" x="28" y="5703.2">               +- *(2) ColumnarToRow</text>
<text class="pre" x="28" y="5721.2">                  +- FileScan parquet [city_id#157,city#158,state#159,state_abv#160,country#161] Batched: true, DataFilters: [isnotnull(country#161), (country#161 = USA), isnotnull(city_id#157)], Format: Parquet, Location: PreparedDeltaFileIndex[dbfs:/mnt/training/global-</text>
<text class="pre" x="28" y="5739.1">sales/cities/all.delta], PartitionFilters: [], PushedFilters: [IsNotNull(country), EqualTo(country,USA), IsNotNull(city_id)], ReadSchema: struct&lt;city_id:int,city:string,state:string,state_abv:string,country:string&gt;</text>
</g>
</svg>
